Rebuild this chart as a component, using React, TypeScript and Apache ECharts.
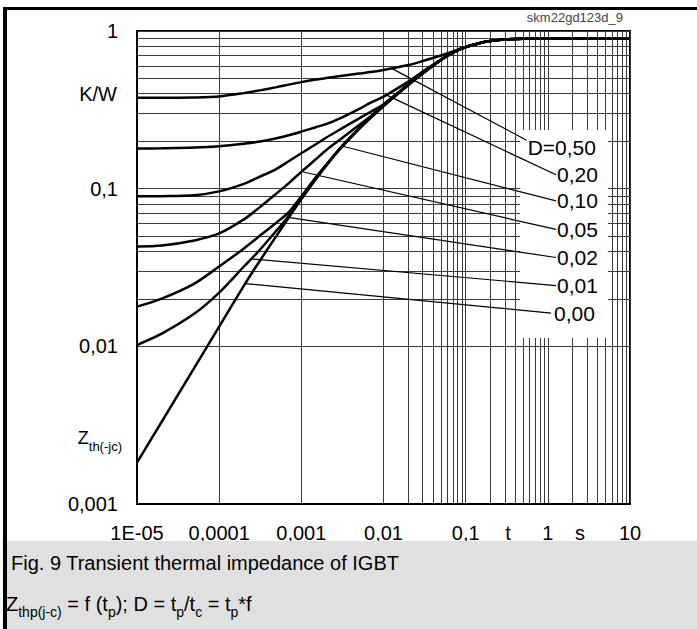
import React, { useEffect, useRef } from "react";
import * as echarts from "echarts";

const FONT = "'Liberation Sans', Arial, Helvetica, sans-serif";

// Axis ticks
const xTickValues = [1e-5, 1e-4, 1e-3, 1e-2, 1e-1, 1, 10];
const xTickLabels = ["1E-05", "0,0001", "0,001", "0,01", "0,1", "1", "10"];
const yTickValues = [0.001, 0.01, 0.1, 1];
const yTickLabels = ["0,001", "0,01", "0,1", "1"];

// Pulse duration t_p [s]
const tp = [
  1e-5, 2e-5, 5e-5, 1e-4, 2e-4, 3e-4, 5e-4, 7e-4, 1e-3, 1.5e-3, 2e-3, 3e-3, 5e-3,
  7e-3, 1e-2, 2e-2, 3e-2, 5e-2, 7e-2, 0.1, 0.15, 0.2, 0.3, 0.5, 1, 10,
];

// Zth(j-c) [K/W] for each duty cycle D
const zthD050 = [
  0.3768, 0.3768, 0.379, 0.3846, 0.4036, 0.4187, 0.4406, 0.4571, 0.4741, 0.4917, 0.5027,
  0.5176, 0.537, 0.5489, 0.5652, 0.6081, 0.6446, 0.6987, 0.7408, 0.7912, 0.8391, 0.8638,
  0.8832, 0.8923, 0.8962, 0.8986,
];
const zthD020 = [
  0.1797, 0.1805, 0.1824, 0.1859, 0.1927, 0.1984, 0.2089, 0.2183, 0.2298, 0.2454, 0.2564,
  0.2799, 0.3193, 0.3512, 0.3835, 0.4775, 0.5528, 0.6591, 0.73, 0.7912, 0.8391, 0.8638,
  0.8832, 0.8923, 0.8962, 0.8986,
];
const zthD010 = [
  0.0894, 0.08965, 0.09098, 0.09616, 0.1073, 0.118, 0.1337, 0.1492, 0.1677, 0.1913, 0.2104,
  0.2383, 0.2779, 0.3077, 0.3436, 0.4604, 0.5408, 0.6543, 0.73, 0.7912, 0.8391, 0.8638,
  0.8832, 0.8923, 0.8962, 0.8986,
];
const zthD005 = [
  0.043, 0.04363, 0.04694, 0.052, 0.06384, 0.07499, 0.0934, 0.1081, 0.1279, 0.1536, 0.1752,
  0.2059, 0.2526, 0.2883, 0.341, 0.4571, 0.5393, 0.6543, 0.73, 0.7912, 0.8391, 0.8638,
  0.8832, 0.8923, 0.8962, 0.8986,
];
const zthD002 = [
  0.01787, 0.02009, 0.02502, 0.03209, 0.04176, 0.04941, 0.06109, 0.07073, 0.0894, 0.118,
  0.1418, 0.1824, 0.24, 0.2832, 0.3356, 0.455, 0.5369, 0.6543, 0.73, 0.7912, 0.8391,
  0.8638, 0.8832, 0.8923, 0.8962, 0.8986,
];
const zthD001 = [
  0.0102, 0.01203, 0.01613, 0.02193, 0.03209, 0.03996, 0.05435, 0.06719, 0.08745, 0.1163,
  0.1407, 0.181, 0.2389, 0.282, 0.3346, 0.455, 0.5369, 0.6543, 0.73, 0.7912, 0.8391,
  0.8638, 0.8832, 0.8923, 0.8962, 0.8986,
];
const zthD000 = [
  0.00183, 0.003324, 0.007328, 0.01335, 0.02426, 0.03377, 0.05037, 0.06535, 0.08553, 0.1147,
  0.1395, 0.1797, 0.2379, 0.282, 0.3346, 0.455, 0.5369, 0.6543, 0.73, 0.7912, 0.8391,
  0.8638, 0.8832, 0.8923, 0.8962, 0.8986,
];

// Leader lines (curve point -> label)
const dutyLabels = ["D=0,50", "0,20", "0,10", "0,05", "0,02", "0,01", "0,00"];
const leaderStartT = [0.01258, 0.01093, 0.0032, 0.001056, 0.0006882, 0.0002373, 0.0002062];
const leaderStartZ = [0.5793, 0.392, 0.1858, 0.1275, 0.06573, 0.03591, 0.02502];
const leaderEndT = [0.5528, 1.257, 1.257, 1.257, 1.257, 1.257, 1.092];
const leaderEndZ = [0.2028, 0.1224, 0.08367, 0.05514, 0.0366, 0.0243, 0.01625];

const curves = [zthD050, zthD020, zthD010, zthD005, zthD002, zthD001, zthD000];

// Caption pieces: [text, isSubscript]
const formulaRuns: [string, boolean][] = [
  ["Z", false], ["thp(j-c)", true], [" = f (t", false], ["p", true], ["); D = t", false],
  ["p", true], ["/t", false], ["c", true], [" = t", false], ["p", true], ["*f", false],
];
const zthRuns: [string, boolean][] = [["Z", false], ["th(-jc)", true]];

function tickText(values: number[], labels: string[], v: number): string {
  const i = values.findIndex((x) => Math.abs(Math.log10(x) - Math.log10(v)) < 0.01);
  return i >= 0 ? labels[i] : "";
}

// minor log grid positions (2..9 per decade)
const minorX: number[] = [];
for (let e = -5; e <= 0; e++) for (let k = 2; k <= 9; k++) minorX.push(k * Math.pow(10, e));
const minorY: number[] = [];
for (let e = -3; e <= -1; e++) for (let k = 2; k <= 9; k++) minorY.push(k * Math.pow(10, e));

function buildRuns(
  runs: [string, boolean][],
  x0: number,
  yMain: number,
  mainSize: number,
  subSize: number,
  subDy: number,
  align: "left" | "right"
): any[] {
  const ctx = document.createElement("canvas").getContext("2d") as CanvasRenderingContext2D;
  const width = (s: string, size: number) => {
    ctx.font = `${size}px ${FONT}`;
    return ctx.measureText(s).width;
  };
  const widths = runs.map(([t, sub]) => width(t, sub ? subSize : mainSize));
  const total = widths.reduce((a, b) => a + b, 0);
  let x = align === "left" ? x0 : x0 - total;
  return runs.map(([t, sub], i) => {
    const size = sub ? subSize : mainSize;
    const trimmed = t.replace(/^\s+/, "");
    const lead = width(t.slice(0, t.length - trimmed.length), size);
    const el = {
      type: "text",
      z: 11,
      style: {
        text: trimmed,
        x: x + lead,
        y: sub ? yMain + subDy : yMain,
        fontSize: size,
        fontFamily: FONT,
        fill: "#000",
        align: "left",
        textAlign: "left",
        verticalAlign: "middle",
        textVerticalAlign: "middle",
      },
    };
    x += widths[i];
    return el;
  });
}

export default function App() {
  const ref = useRef<HTMLDivElement>(null);
  useEffect(() => {
    if (!ref.current) return;
    const chart = echarts.init(ref.current, undefined, { renderer: "svg" });
    const gridColor = "#3a3a3a";
    const series: any[] = [
      {
        type: "line",
        name: "grid",
        data: [[1e-5, 0.001]],
        showSymbol: false,
        symbol: "none",
        silent: true,
        z: 0,
        lineStyle: { opacity: 0 },
        markLine: {
          silent: true,
          z: 0,
          symbol: ["none", "none"],
          label: { show: false },
          emphasis: { disabled: true },
          lineStyle: { color: gridColor, width: 1, type: "solid" },
          data: [
            ...minorX.map((v) => ({ xAxis: v })),
            ...minorY.map((v) => ({ yAxis: v })),
          ],
        },
      },
    ];
    curves.forEach((c, idx) => {
      series.push({
        type: "line",
        name: dutyLabels[idx],
        data: tp.map((t, i) => [t, c[i]]),
        symbol: "none",
        smooth: 0.3,
        z: 3,
        lineStyle: { color: "#000", width: 2.5 },
      });
    });
    dutyLabels.forEach((lab, i) => {
      series.push({
        type: "line",
        name: "leader " + lab,
        data: [
          [leaderStartT[i], leaderStartZ[i]],
          [leaderEndT[i], leaderEndZ[i]],
        ],
        symbol: "none",
        z: 3,
        lineStyle: { color: "#000", width: 1.2 },
        endLabel: {
          show: true,
          formatter: lab,
          distance: i === 6 ? 3 : 1,
          offset: i === 0 ? [0, 7] : [0, 0],
          fontSize: 21,
          fontFamily: FONT,
          color: "#000",
        },
      });
    });

    const txt = (extra: any) => ({ type: "text", z: 10, ...extra });

    chart.setOption({
      animation: false,
      backgroundColor: "#ffffff",
      grid: {
        left: 137,
        right: 67,
        top: 31,
        bottom: 125,
        show: true,
        borderColor: "#000",
        borderWidth: 2,
        backgroundColor: "transparent",
      },
      xAxis: {
        type: "log",
        logBase: 10,
        min: 1e-5,
        max: 10,
        axisLine: { show: true, lineStyle: { color: "#000", width: 2 } },
        axisTick: { show: false },
        axisLabel: {
          show: true,
          showMinLabel: true,
          showMaxLabel: true,
          margin: 19,
          fontSize: 20,
          fontFamily: FONT,
          color: "#000",
          formatter: (v: number) => tickText(xTickValues, xTickLabels, v),
        },
        splitLine: { show: true, lineStyle: { color: gridColor, width: 1 } },
      },
      yAxis: {
        type: "log",
        logBase: 10,
        min: 0.001,
        max: 1,
        axisLine: { show: true, lineStyle: { color: "#000", width: 2 } },
        axisTick: { show: false },
        axisLabel: {
          show: true,
          showMinLabel: true,
          showMaxLabel: true,
          margin: 19,
          fontSize: 20,
          fontFamily: FONT,
          color: "#000",
          formatter: (v: number) => tickText(yTickValues, yTickLabels, v),
        },
        splitLine: { show: true, lineStyle: { color: gridColor, width: 1 } },
      },
      series,
      graphic: {
        elements: [
          { type: "rect", z: 1, shape: { x: 520, y: 130, width: 88, height: 208 }, style: { fill: "#fff" } },
          { type: "rect", z: 10, shape: { x: 7, y: 541, width: 690, height: 88 }, style: { fill: "#e0e0e0" } },
          { type: "rect", z: 10, shape: { x: 3, y: 7, width: 694, height: 3 }, style: { fill: "#000" } },
          { type: "rect", z: 10, shape: { x: 3, y: 7, width: 4, height: 622 }, style: { fill: "#000" } },
          txt({
            style: {
              text: "skm22gd123d_9", x: 623, y: 17, fontSize: 13, fontFamily: FONT, fill: "#444",
              align: "right", textAlign: "right", verticalAlign: "middle", textVerticalAlign: "middle",
            },
          }),
          txt({
            style: {
              text: "K/W", x: 117, y: 94, fontSize: 20, fontFamily: FONT, fill: "#000",
              align: "right", textAlign: "right", verticalAlign: "middle", textVerticalAlign: "middle",
            },
          }),
          ...buildRuns(zthRuns, 122, 438, 18, 13, 8, "right"),
          txt({
            style: {
              text: "t", x: 508, y: 533, fontSize: 20, fontFamily: FONT, fill: "#000",
              align: "center", textAlign: "center", verticalAlign: "middle", textVerticalAlign: "middle",
            },
          }),
          txt({
            style: {
              text: "s", x: 580, y: 533, fontSize: 20, fontFamily: FONT, fill: "#000",
              align: "center", textAlign: "center", verticalAlign: "middle", textVerticalAlign: "middle",
            },
          }),
          txt({
            z: 11,
            style: {
              text: "Fig. 9 Transient thermal impedance of IGBT", x: 11, y: 563, fontSize: 20, fontFamily: FONT,
              fill: "#000", align: "left", textAlign: "left", verticalAlign: "middle", textVerticalAlign: "middle",
            },
          }),
          ...buildRuns(formulaRuns, 6, 604, 20, 14, 8, "left"),
        ],
      },
    });
    return () => chart.dispose();
  }, []);
  return (
    <div
      ref={ref}
      style={{ position: "fixed", left: 0, top: 0, width: 697, height: 629 }}
    />
  );
}
